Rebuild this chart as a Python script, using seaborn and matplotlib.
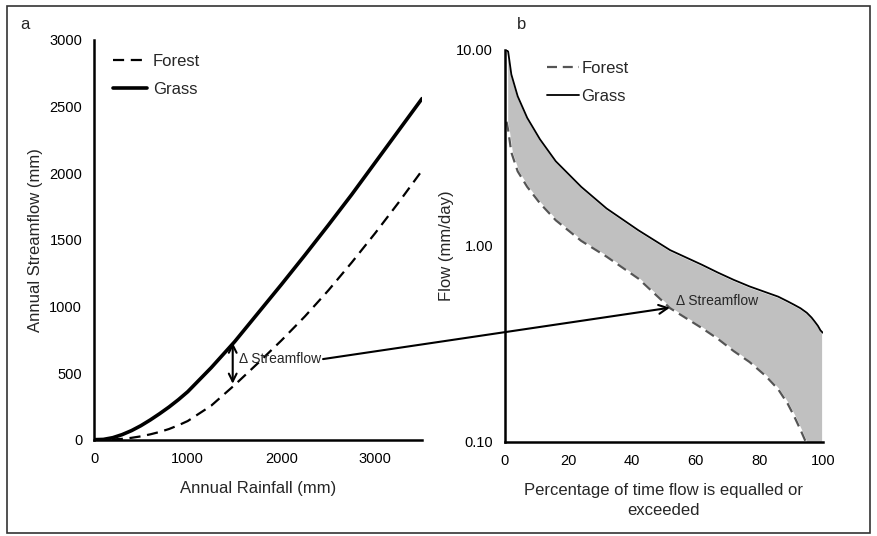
import numpy as np
import seaborn as sns
import matplotlib.pyplot as plt
from matplotlib.patches import Rectangle, ConnectionPatch

# panel a: annual rainfall vs annual streamflow
rain = [0, 100, 200, 300, 400, 500, 600, 700, 800, 900, 1000, 1250, 1500, 1750,
        2000, 2250, 2500, 2750, 3000, 3250, 3500]
grass_q = [0, 2, 15, 38, 68, 105, 148, 195, 245, 300, 360, 540, 735, 950,
           1165, 1385, 1610, 1840, 2080, 2320, 2560]
forest_q = [0, 0, 2, 6, 14, 25, 40, 58, 80, 108, 140, 255, 410, 575,
            745, 925, 1120, 1330, 1550, 1780, 2020]

# panel b: flow duration curves
pct = [0.5, 1, 2, 4, 7, 11, 16, 24, 32, 42, 52, 62, 67, 72, 77, 82, 86, 89, 91, 93,
       95, 96.5, 97.5, 98.5, 99.3, 100]
grass_fdc = [10, 9.8, 7.5, 5.8, 4.5, 3.5, 2.7, 2.0, 1.55, 1.2, 0.95, 0.8, 0.73, 0.67,
             0.62, 0.58, 0.55, 0.52, 0.50, 0.48, 0.455, 0.43, 0.41, 0.39, 0.37, 0.36]
forest_fdc = [4.3, 3.9, 3.0, 2.4, 2.0, 1.65, 1.35, 1.06, 0.88, 0.68, 0.48, 0.38, 0.335,
              0.29, 0.255, 0.217, 0.185, 0.156, 0.135, 0.115, 0.097, 0.082, 0.072,
              0.064, 0.058, 0.05]

sns.set_style("white")
plt.rcParams["font.family"] = ["Liberation Sans", "DejaVu Sans"]

fig = plt.figure(figsize=(8.77, 5.36), dpi=100)
ax1 = fig.add_axes([0.1072, 0.1797, 0.374, 0.7457])
ax2 = fig.add_axes([0.5758, 0.176, 0.3623, 0.7308])

# ── panel a ──────────────────────────────
sns.lineplot(x=rain, y=forest_q, ax=ax1, color="black", lw=1.6, label="Forest")
ax1.lines[-1].set_dashes((5, 3))
sns.lineplot(x=rain, y=grass_q, ax=ax1, color="black", lw=2.6, label="Grass")

ax1.set_xlim(0, 3500)
ax1.set_ylim(0, 3000)
ax1.set_xticks([0, 1000, 2000, 3000])
ax1.set_yticks(range(0, 3001, 500))
ax1.set_xlabel("Annual Rainfall (mm)", fontsize=12, labelpad=11)
ax1.set_ylabel("Annual Streamflow (mm)", fontsize=12)
ax1.yaxis.set_label_coords(-0.155, 0.5)

ax1.annotate("", xy=(1480, 420), xytext=(1480, 728),
             arrowprops=dict(arrowstyle="<->", lw=1.5, color="black",
                             shrinkA=0, shrinkB=0, mutation_scale=14))
ax1.text(1548, 606, "\u0394 Streamflow", fontsize=10, ha="left", va="center")

leg1 = ax1.legend(loc="upper left", bbox_to_anchor=(0.058, 0.965), frameon=False,
                  fontsize=12, handlelength=2.05, handletextpad=0.35,
                  labelspacing=0.8, borderpad=0, borderaxespad=0)

# ── panel b ──────────────────────────────
ax2.fill_between(pct, forest_fdc, grass_fdc, color="#c0c0c0",
                 edgecolor="white", lw=1.6, zorder=1)
sns.lineplot(x=pct, y=forest_fdc, ax=ax2, color="#555555", lw=1.6, label="Forest")
ax2.lines[-1].set_dashes((4.5, 2.6))
sns.lineplot(x=pct, y=grass_fdc, ax=ax2, color="black", lw=1.3, label="Grass")

ax2.set_yscale("log")
ax2.set_xlim(0, 100)
ax2.set_ylim(0.1, 10)
ax2.set_xticks(range(0, 101, 20))
ax2.set_yticks([0.1, 1, 10])
ax2.set_yticklabels(["0.10", "1.00", "10.00"])
ax2.yaxis.set_minor_locator(plt.NullLocator())
ax2.set_xlabel("Percentage of time flow is equalled or\nexceeded", fontsize=12,
               labelpad=11, linespacing=1.35)
ax2.set_ylabel("Flow (mm/day)", fontsize=12)
ax2.yaxis.set_label_coords(-0.16, 0.5)
ax2.text(53.8, 0.52, "\u0394 Streamflow", fontsize=10, ha="left", va="center")

leg2 = ax2.legend(loc="upper left", bbox_to_anchor=(0.131, 0.972), frameon=False,
                  fontsize=12, handlelength=1.95, handletextpad=0.15,
                  labelspacing=0.8, borderpad=0, borderaxespad=0)

for ax in (ax1, ax2):
    for side in ("top", "right"):
        ax.spines[side].set_visible(False)
    for side in ("left", "bottom"):
        ax.spines[side].set_color("black")
        ax.spines[side].set_linewidth(1.8)
    ax.tick_params(axis="x", direction="in", length=3, width=1.5, pad=9,
                   labelsize=10.5, colors="black")
    ax.tick_params(axis="y", direction="out", length=3, width=1.5, pad=5.5,
                   labelsize=10.5, colors="black")
    ax.grid(False)

# arrow linking the two panels
con = ConnectionPatch(xyA=(2444, 605), coordsA="data", axesA=ax1,
                      xyB=(51.9, 0.483), coordsB="data", axesB=ax2,
                      arrowstyle="->", lw=1.5, color="black", mutation_scale=16)
fig.add_artist(con)

fig.text(20 / 877, 1 - 29 / 536, "a", fontsize=12, va="baseline")
fig.text(517 / 877, 1 - 29 / 536, "b", fontsize=12, va="baseline")

fig.add_artist(Rectangle((0.008, 0.0056), 0.984, 0.983, transform=fig.transFigure,
                         fill=False, lw=1.2, ec="#333333"))

fig.savefig("out.png", dpi=100)
